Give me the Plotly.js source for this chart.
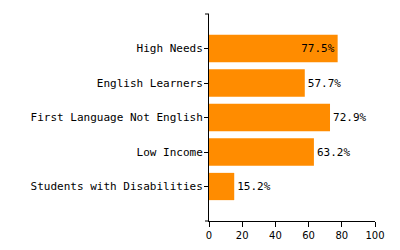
<!DOCTYPE html>
<html>
<head>
<meta charset="utf-8">
<script src="https://cdn.plot.ly/plotly-3.0.1.min.js"></script>
<style>html,body{margin:0;padding:0;background:#fff;}#chart{width:400px;height:250px;}</style>
</head>
<body>
<div id="chart"></div>
<script>
var categories = ["High Needs", "English Learners", "First Language Not English", "Low Income", "Students with Disabilities"];
var values = [77.5, 57.7, 72.9, 63.2, 15.2];
var xTicks = [0, 20, 40, 60, 80, 100];

var labels = values.map(function(v){ return v.toFixed(1) + "%"; });
var positions = values.map(function(v){ return v > 75 ? "inside" : "outside"; });

var trace = {
  type: "bar",
  orientation: "h",
  y: categories,
  x: values,
  text: labels,
  textposition: positions,
  insidetextanchor: "end",
  textangle: 0,
  cliponaxis: false,
  constraintext: "none",
  textfont: {family: "DejaVu Sans Mono", size: 11, color: "#000"},
  marker: {color: "#FF8C00"},
  width: 0.79,
  hoverinfo: "none"
};

var layout = {
  width: 400, height: 250,
  margin: {l: 209, r: 25, t: 14, b: 29},
  paper_bgcolor: "#fff", plot_bgcolor: "#fff",
  showlegend: false,
  xaxis: {
    range: [0, 100], tickvals: xTicks, ticks: "outside", ticklen: 5, tickcolor: "#000",
    showline: true, linecolor: "#000", linewidth: 1, showgrid: false, zeroline: false,
    tickfont: {family: "DejaVu Sans", size: 10, color: "#000"}, fixedrange: true
  },
  yaxis: {
    type: "category", categoryorder: "array", categoryarray: categories,
    range: [categories.length, -1], ticks: "outside", ticklen: 4, tickcolor: "#000",
    ticklabelstandoff: -1,
    showline: true, linecolor: "#000", linewidth: 1, showgrid: false, zeroline: false,
    tickfont: {family: "DejaVu Sans Mono", size: 11, color: "#000"}, fixedrange: true
  },
  shapes: [
    {type: "line", xref: "paper", yref: "paper", x0: -4/166, x1: 0, y0: 1, y1: 1, line: {color: "#000", width: 1}},
    {type: "line", xref: "paper", yref: "paper", x0: -4/166, x1: 0, y0: 0, y1: 0, line: {color: "#000", width: 1}}
  ]
};

Plotly.newPlot("chart", [trace], layout, {displayModeBar: false, staticPlot: true});
</script>
</body>
</html>
